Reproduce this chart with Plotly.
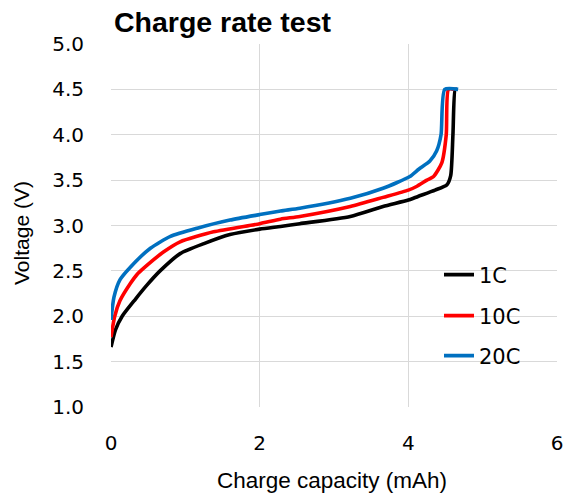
import plotly.graph_objects as go

# ---- data ----
series_names = ["1C", "10C", "20C"]
series_colors = ["#000000", "#FF0000", "#0070C0"]

cap_1c = [0, 0.06, 0.15, 0.33, 0.48, 0.66, 0.93, 1.25, 1.60, 2.0, 2.28, 2.54, 3.22, 3.66, 4.0,
          4.13, 4.36, 4.52, 4.57, 4.60, 4.63, 4.65]
volt_1c = [1.66, 1.85, 2.0, 2.19, 2.34, 2.50, 2.69, 2.80, 2.90, 2.96, 2.99, 3.02, 3.10, 3.21, 3.28,
           3.32, 3.39, 3.45, 3.55, 4.0, 4.5, 4.5]

cap_10c = [0, 0.05, 0.12, 0.26, 0.35, 0.44, 0.71, 0.93, 1.38, 2.0, 2.28, 2.54, 3.22, 3.66, 4.0, 4.11,
           4.25, 4.34, 4.45, 4.51, 4.54, 4.62]
volt_10c = [1.77, 2.0, 2.17, 2.36, 2.46, 2.53, 2.71, 2.82, 2.93, 3.02, 3.07, 3.10, 3.21, 3.31, 3.39, 3.43,
            3.50, 3.54, 3.69, 4.0, 4.5, 4.5]

cap_20c = [0, 0.04, 0.12, 0.26, 0.53, 0.80, 1.16, 1.60, 2.0, 2.28, 2.54, 3.22, 3.66, 4.02, 4.14, 4.29,
           4.38, 4.44, 4.49, 4.67]
volt_20c = [1.96, 2.21, 2.40, 2.54, 2.75, 2.88, 2.97, 3.06, 3.12, 3.16, 3.19, 3.30, 3.41, 3.54, 3.62, 3.71,
            3.82, 4.0, 4.5, 4.5]

x_ticks = [0, 2, 4, 6]
y_ticks = [1.0, 1.5, 2.0, 2.5, 3.0, 3.5, 4.0, 4.5, 5.0]

title_text = "Charge rate test"
x_title = "Charge capacity (mAh)"
y_title = "Voltage (V)"

# ---- figure ----
W, H = 565, 493
L, R, T, B = 111, 8, 44, 86
pw, ph = W - L - R, H - T - B

fig = go.Figure()
xs = [cap_1c, cap_10c, cap_20c]
ys = [volt_1c, volt_10c, volt_20c]
legend_ids = ["legend", "legend2", "legend3"]
legend_py = [275, 316, 356]

for name, color, x, y, lid in zip(series_names, series_colors, xs, ys, legend_ids):
    fig.add_trace(go.Scatter(x=x, y=y, mode="lines", name=name,
                             line=dict(color=color, width=3.6, shape="spline", smoothing=0.6),
                             legend=lid))

leg_font = dict(family="DejaVu Sans", size=21, color="#000000")
leg_x = (439 - L) / pw
for lid, py in zip(legend_ids, legend_py):
    fig.update_layout(**{lid: dict(x=leg_x, y=(H - B - py) / ph, xanchor="left", yanchor="middle",
                                   bgcolor="rgba(0,0,0,0)", font=leg_font,
                                   borderwidth=0, tracegroupgap=0)})

grid = "#D9D9D9"
tick_font = dict(family="DejaVu Sans", size=20, color="#000000")

fig.update_xaxes(range=[0, 6], tickvals=x_ticks, ticktext=[str(v) for v in x_ticks],
                 showgrid=True, gridcolor=grid, gridwidth=1, zeroline=False, automargin=False,
                 showline=False, tickfont=tick_font, ticklabelstandoff=22, ticks="")
fig.update_yaxes(range=[1.0, 5.0], tickvals=y_ticks, ticktext=[f"{v:.1f}" for v in y_ticks],
                 showgrid=True, gridcolor=grid, gridwidth=1, zeroline=False, automargin=False,
                 showline=False, tickfont=tick_font, ticklabelstandoff=26, ticks="")

fig.update_layout(
    width=W, height=H,
    margin=dict(l=L, r=R, t=T, b=B, pad=0, autoexpand=False),
    paper_bgcolor="white", plot_bgcolor="white",
    showlegend=True,
    title=dict(text=f"<b>{title_text}</b>", x=114 / W, xanchor="left", xref="container",
               y=1 - 22 / H, yanchor="middle", yref="container",
               font=dict(family="Liberation Sans", size=28.5, color="#000000")),
    annotations=[
        dict(text=x_title, xref="paper", yref="paper", x=(332 - L) / pw, y=(H - B - 480) / ph,
             xanchor="center", yanchor="middle", showarrow=False,
             font=dict(family="Liberation Sans", size=22.5, color="#000000")),
        dict(text=y_title, xref="paper", yref="paper", x=(21 - L) / pw, y=(H - B - 233) / ph,
             xanchor="center", yanchor="middle", showarrow=False, textangle=-90,
             font=dict(family="Liberation Sans", size=21, color="#000000")),
    ],
)

fig.write_html("out.html", config={"displayModeBar": False},
               post_script="document.body.style.margin='0';document.body.style.overflow='hidden';")
